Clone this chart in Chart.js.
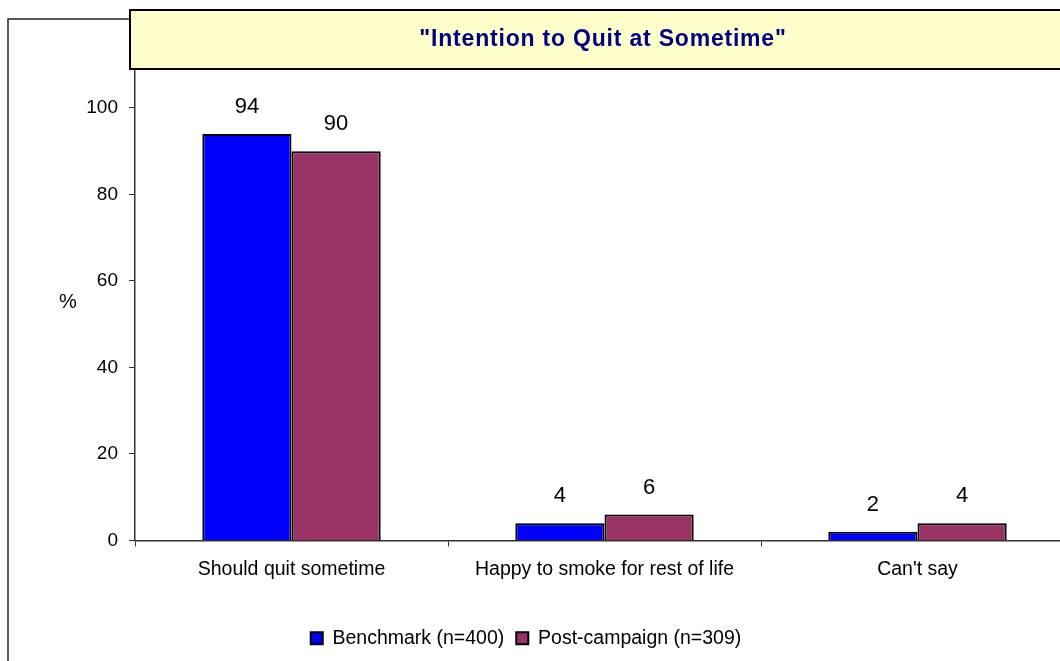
<!DOCTYPE html>
<html>
<head>
<meta charset="utf-8">
<script src="https://cdn.jsdelivr.net/npm/chart.js@4.4.1/dist/chart.umd.min.js"></script>
<style>
  html, body { margin: 0; padding: 0; background: #fff; overflow: hidden; }
  #wrap { position: absolute; left: -22px; top: 0; width: 1096px; height: 661px; }
</style>
</head>
<body>
<div id="wrap"><canvas id="myChart"></canvas></div>
<script>
// data block
const categories = ['Should quit sometime', 'Happy to smoke for rest of life', "Can't say"];
const seriesNames = ['Benchmark (n=400)', 'Post-campaign (n=309)'];
const benchmark = [94, 4, 2];
const postCampaign = [90, 6, 4];
const yTicks = [0, 20, 40, 60, 80, 100];
const titleText = '"Intention to Quit at Sometime"';

const FONT = "'Liberation Sans', Arial, sans-serif";

// frame, title box, % label and value labels
const decor = {
    id: 'decor',
    beforeDraw(chart) {
        const ctx = chart.ctx;
        const a = chart.chartArea;
        ctx.save();
        ctx.fillStyle = '#fff';
        ctx.fillRect(0, 0, chart.width, chart.height);
        ctx.strokeStyle = '#222';
        ctx.lineWidth = 1.5;
        ctx.strokeRect(a.left - 127, 19, 2000, 2000);
        ctx.restore();
    },
    afterDatasetsDraw(chart) {
        const ctx = chart.ctx;
        ctx.save();
        ctx.fillStyle = '#000';
        ctx.font = '22px ' + FONT;
        ctx.textAlign = 'center';
        ctx.textBaseline = 'middle';
        chart.data.datasets.forEach((ds, i) => {
            chart.getDatasetMeta(i).data.forEach((bar, j) => {
                ctx.fillText(ds.data[j], bar.x, bar.y - 27);
            });
        });
        ctx.restore();
    },
    afterDraw(chart) {
        const ctx = chart.ctx;
        const a = chart.chartArea;
        ctx.save();
        // title box
        ctx.fillStyle = '#FFFFCC';
        ctx.fillRect(a.left - 5, 10, 1200, a.top - 10);
        ctx.strokeStyle = '#000';
        ctx.lineWidth = 2;
        ctx.strokeRect(a.left - 5, 10, 1200, a.top - 10);
        ctx.fillStyle = '#000080';
        ctx.font = 'bold 23px ' + FONT;
        ctx.letterSpacing = '0.8px';
        ctx.textAlign = 'center';
        ctx.textBaseline = 'middle';
        ctx.fillText(titleText, a.left + 468, 40);
        ctx.letterSpacing = '0px';
        // axis title
        ctx.fillStyle = '#000';
        ctx.font = '20px ' + FONT;
        ctx.fillText('%', a.left - 67, 302);
        ctx.restore();
    }
};

const data = {
    labels: categories,
    datasets: [{
        label: seriesNames[0],
        data: benchmark,
        backgroundColor: '#0000FF',
        borderColor: '#000',
        borderWidth: 2
    }, {
        label: seriesNames[1],
        data: postCampaign,
        backgroundColor: '#993366',
        borderColor: '#000',
        borderWidth: 2
    }]
};

const config = {
    type: 'bar',
    data: data,
    plugins: [decor],
    options: {
        responsive: true,
        maintainAspectRatio: false,
        animation: false,
        layout: { padding: { top: 69, left: 0, right: 0, bottom: 3 } },
        datasets: {
            bar: { categoryPercentage: 0.57, barPercentage: 1 }
        },
        plugins: {
            title: { display: false },
            tooltip: { enabled: false },
            legend: {
                position: 'bottom',
                labels: {
                    boxWidth: 12,
                    boxHeight: 12,
                    padding: 12,
                    color: '#000',
                    font: { family: FONT, size: 19.5 }
                }
            }
        },
        scales: {
            x: {
                afterFit(scale) { scale.height = 76; },
                grid: { offset: true, drawOnChartArea: false, tickLength: 6, color: '#333' },
                border: { color: '#333', width: 1.5 },
                ticks: { color: '#000', padding: 11, font: { family: FONT, size: 19.5 } }
            },
            y: {
                min: 0,
                max: 109,
                afterFit(scale) { scale.width = 157; },
                afterBuildTicks(scale) { scale.ticks = yTicks.map(v => ({ value: v })); },
                grid: { drawOnChartArea: false, tickLength: 6, color: '#333' },
                border: { color: '#333', width: 1.5 },
                ticks: { color: '#000', padding: 11, font: { family: FONT, size: 19 } }
            }
        }
    }
};

const myChart = new Chart(document.getElementById('myChart'), config);
</script>
</body>
</html>
